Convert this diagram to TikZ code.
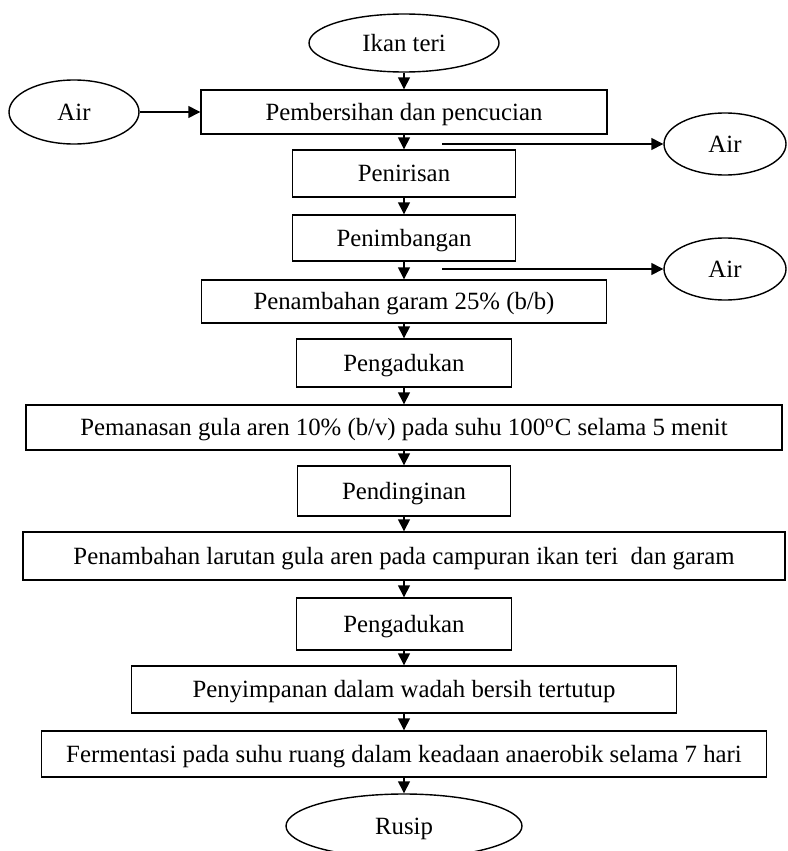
\documentclass[tikz,border=0pt]{standalone}
\usepackage{fontspec}
\setmainfont{Liberation Serif}
\usepackage{tikz}
\usetikzlibrary{arrows.meta,shapes.geometric}

\begin{document}
\begin{tikzpicture}[x=0.5pt, y=-0.5pt, line width=0.7pt,
  font=\fontsize{12.4}{14}\selectfont,
  proc/.style={draw, rectangle, inner sep=0pt, align=center, text height=9.8pt, text depth=1.5pt},
  term/.style={draw, ellipse, inner sep=0pt, text height=10.3pt, text depth=1.5pt},
  flow/.style={-{Triangle[length=6pt,width=6pt]}}]
\useasboundingbox (0,0) rectangle (787,851);
\clip (0,0) rectangle (787,851);
\node[term, minimum width=95pt, minimum height=29pt] (ikan) at (404,43) {Ikan teri};
\foreach \n/\y/\w/\h/\t in {
  b1/112/406/44/{Pembersihan dan pencucian},
  b2/173.5/223/47/{Penirisan},
  b3/238/223/46/{Penimbangan},
  b4/301.5/405/43/{Penambahan garam 25\% (b/b)},
  b5/363/215/48/{Pengadukan},
  b6/427.5/756/45/{Pemanasan gula aren 10\% (b/v) pada suhu 100\textsuperscript{o}C selama 5 menit},
  b7/491/213/50/{Pendinginan},
  b8/556/762/48/{Penambahan larutan gula aren pada campuran ikan teri~ dan garam},
  b9/624/215/52/{Pengadukan},
  b10/689.5/545/47/{Penyimpanan dalam wadah bersih tertutup},
  b11/754/725/46/{Fermentasi pada suhu ruang dalam keadaan anaerobik selama 7 hari}} {
  \node[proc, minimum width={\w*0.5pt}, minimum height={\h*0.5pt}] (\n) at (404,\y) {\t};
}
\node[term, minimum width=118pt, minimum height=32pt] (rusip) at (404,826) {Rusip};
\node[term, minimum width=65pt, minimum height=32pt] (airA) at (74,112) {Air};
\node[term, minimum width=61pt, minimum height=31pt] (airB) at (725,144) {Air};
\node[term, minimum width=61pt, minimum height=31pt] (airC) at (725,269) {Air};
\coordinate (o1) at (442,144);
\coordinate (o2) at (442,269);
\foreach \a/\b in {ikan/b1, b1/b2, b2/b3, b3/b4, b4/b5, b5/b6, b6/b7, b7/b8, b8/b9, b9/b10, b10/b11, b11/rusip}
  \draw[flow] (\a) -- (\b);
\draw[flow] (airA) -- (b1);
\draw[flow] (o1) -- (airB);
\draw[flow] (o2) -- (airC);
\end{tikzpicture}
\end{document}
